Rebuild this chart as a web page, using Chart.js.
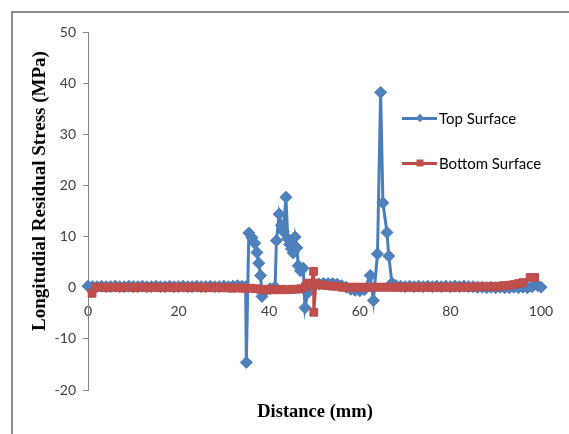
<!DOCTYPE html>
<html><head><meta charset="utf-8">
<script src="https://cdn.jsdelivr.net/npm/chart.js@4/dist/chart.umd.min.js"></script>
<style>
html,body{margin:0;padding:0;background:#fff;}
#wrap{position:relative;width:569px;height:434px;overflow:hidden;background:#fff;}
#frame{position:absolute;left:11px;top:11px;width:700px;height:600px;border-left:2px solid #8e8e8e;border-top:2px solid #8e8e8e;}
#c{position:absolute;left:0;top:0;}
.ytitle{position:absolute;left:39px;top:191px;transform:translate(-50%,-50%) rotate(-90deg);font:bold 19px "Liberation Serif";white-space:nowrap;color:#000;}
.xtitle{position:absolute;left:315px;top:411px;transform:translate(-50%,-50%);font:bold 18.5px "Liberation Serif";white-space:nowrap;color:#000;}
.leg{position:absolute;left:402px;height:20px;display:flex;align-items:center;font:15px Lato;color:#000;transform:translateY(-50%);}
.sample{position:relative;width:35px;height:3px;margin-right:2px;}
.mk{position:absolute;left:50%;top:50%;}
</style>
</head><body>
<div id="wrap">
<div id="frame"></div>
<canvas id="c" width="569" height="434"></canvas>
<div class="ytitle">Longitudial Residual Stress (MPa)</div>
<div class="xtitle">Distance (mm)</div>
<div class="leg" style="top:118px"><div class="sample" style="background:#4A7EBB"><div class="mk" style="width:6px;height:6px;background:#4F81BD;transform:translate(-50%,-50%) rotate(45deg)"></div></div><span>Top Surface</span></div>
<div class="leg" style="top:163px"><div class="sample" style="background:#BE4B48"><div class="mk" style="width:7px;height:7px;background:#C0504D;transform:translate(-50%,-50%)"></div></div><span>Bottom Surface</span></div>
</div>
<script>
const xTicks = [0, 20, 40, 60, 80, 100];
const yTicks = [-20, -10, 0, 10, 20, 30, 40, 50];

const topX = [0,1,2,3,4,5,6,7,8,9,10,11,12,13,14,15,16,17,18,19,20,21,22,23,24,25,26,27,28,29,30,31,32,33,34,34.8,34.95,35.5,36.2,36.8,37.3,37.7,38.1,38.4,39.2,40.2,41.3,41.6,42.2,42.7,43.1,43.7,44.1,44.5,44.9,45.3,45.7,46.1,46.4,46.9,47.5,47.9,48.5,49.2,50,51,52,53,54,55,56,57,58,59,60,61,62.3,63.0,63.9,64.6,65.1,66.0,66.4,67.1,68,69,70,71,72,73,74,75,76,77,78,79,80,81,82,83,84,85,86,87,88,89,90,91,92,93,94,95,96,97,98,98.7,99.3,100];
const topY = [0.3,0.2,0.2,0.3,0.2,0.2,0.3,0.2,0.2,0.3,0.2,0.2,0.3,0.2,0.2,0.3,0.2,0.2,0.3,0.2,0.2,0.3,0.2,0.2,0.3,0.2,0.2,0.3,0.2,0.2,0.3,0.2,0.3,0.4,0.3,0.2,-14.6,10.7,9.8,8.7,6.9,4.8,2.4,-1.7,-0.6,-0.2,0.1,9.2,14.4,12.2,11.0,17.7,9.6,8.5,7.6,6.8,9.9,7.8,4.3,3.3,3.8,-3.9,-1.0,0.4,0.5,0.7,0.8,0.8,0.8,0.7,0.4,0.1,-0.3,-0.5,-0.6,-0.4,2.4,-2.5,6.6,38.2,16.6,10.8,6.2,0.9,0.4,0.3,0.2,0.3,0.2,0.3,0.2,0.3,0.2,0.3,0.2,0.3,0.2,0.3,0.2,0.3,0.2,0.2,0.1,0.1,0.0,0.1,0.0,0.1,0.0,0.0,0.1,0.0,0.1,0.0,0.2,0.7,0.4,0.1];

const botX = [0.9,1.8,3,4,5,6,7,8,9,10,11,12,13,14,15,16,17,18,19,20,21,22,23,24,25,26,27,28,29,30,31,32,33,34,35,36,37,38,39,40,41,42,43,44,45,46,47,48,48.6,49.3,49.8,49.85,50.3,51,52,53,54,55,56,57,58,59,60,61,62,63,64,65,66,67,68,69,70,71,72,73,74,75,76,77,78,79,80,81,82,83,84,85,86,87,88,89,90,91,92,93,94,95,96,97.6,98.6];
const botY = [-1.1,0.1,0.1,0.0,0.1,0.1,0.0,0.1,0.1,0.0,0.1,0.1,0.0,0.1,0.1,0.0,0.1,0.1,0.0,0.1,0.1,0.0,0.1,0.1,0.0,0.1,0.0,0.1,0.0,0.0,0.0,-0.1,0.0,-0.1,-0.1,-0.1,-0.2,-0.3,-0.4,-0.3,-0.4,-0.4,-0.3,-0.4,-0.3,-0.3,-0.2,0.2,0.9,0.6,3.2,-4.8,0.9,0.6,0.5,0.4,0.3,0.3,0.1,0.1,0.1,0.1,0.1,0.1,0.1,0.1,0.1,0.1,0.1,0.1,0.1,0.1,0.1,0.1,0.1,0.1,0.1,0.1,0.1,0.1,0.1,0.1,0.1,0.1,0.1,0.1,0.1,0.1,0.2,0.2,0.2,0.2,0.2,0.3,0.4,0.5,0.6,0.8,1.0,2.0,2.0];

const toPts = (xs, ys) => xs.map((x, i) => ({x: x, y: ys[i]}));
const axisGrey = '#868686';
const tickFont = {family: 'Lato', size: 14};

new Chart(document.getElementById('c'), {
  type: 'line',
  data: {
    datasets: [
      {
        label: 'Bottom Surface',
        data: toPts(botX, botY),
        borderColor: '#BE4B48', borderWidth: 3,
        pointStyle: 'rect', pointRadius: 5.5,
        pointBackgroundColor: '#C0504D', pointBorderColor: '#BE4B48', pointBorderWidth: 1,
        tension: 0, order: 0, clip: false
      },
      {
        label: 'Top Surface',
        data: toPts(topX, topY),
        borderColor: '#4A7EBB', borderWidth: 3,
        pointStyle: 'rectRot', pointRadius: 6,
        pointBackgroundColor: '#4F81BD', pointBorderColor: '#4A7EBB', pointBorderWidth: 1,
        tension: 0, order: 1, clip: false
      }
    ]
  },
  options: {
    responsive: false, animation: false,
    events: [],
    layout: {padding: {left: 0, top: 32, right: 28, bottom: 44}},
    plugins: {legend: {display: false}, tooltip: {enabled: false}},
    scales: {
      x: {
        type: 'linear', min: 0, max: 100, position: {y: 0},
        afterBuildTicks: s => { s.ticks = xTicks.map(v => ({value: v})); },
        grid: {drawOnChartArea: false, drawTicks: true, tickLength: 5, color: axisGrey},
        border: {color: axisGrey, width: 1},
        ticks: {font: tickFont, color: '#404040', padding: 10, maxRotation: 0, autoSkip: false}
      },
      y: {
        type: 'linear', min: -20, max: 50,
        afterBuildTicks: s => { s.ticks = yTicks.map(v => ({value: v})); },
        afterFit: s => { s.width = 88; },
        grid: {drawOnChartArea: false, drawTicks: true, tickLength: 5, color: axisGrey},
        border: {color: axisGrey, width: 1},
        ticks: {font: tickFont, color: '#404040', padding: 7, autoSkip: false}
      }
    }
  }
});
</script>
</body></html>
